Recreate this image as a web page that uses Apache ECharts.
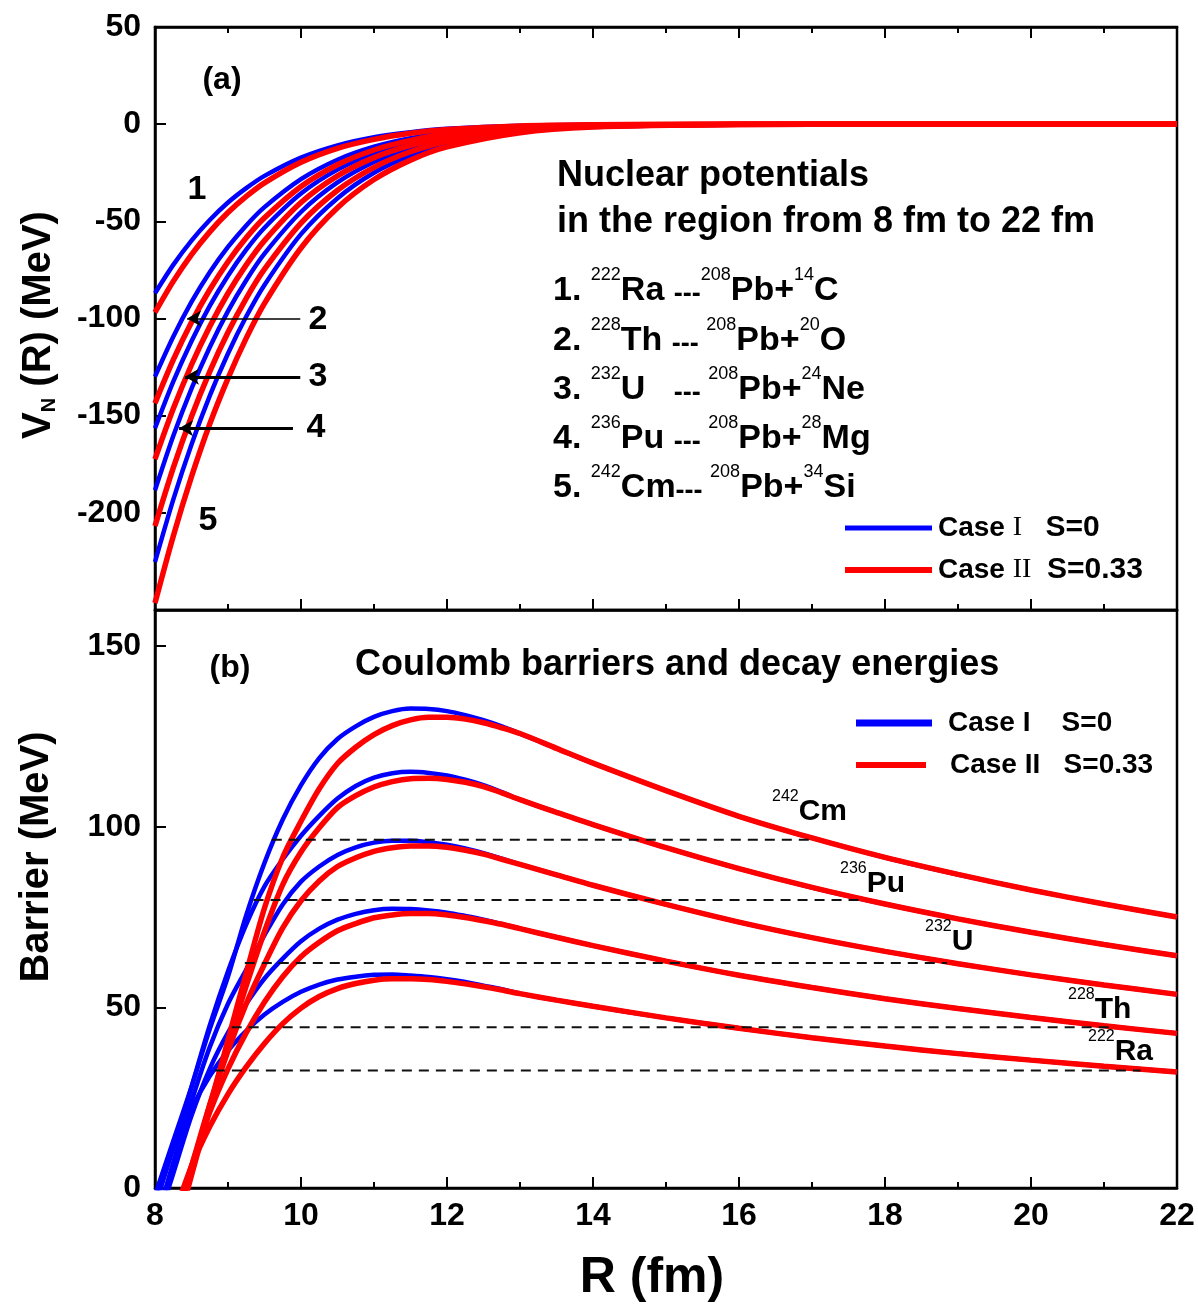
<!DOCTYPE html>
<html>
<head>
<meta charset="utf-8">
<title>Nuclear potentials and Coulomb barriers</title>
<script src="https://cdn.jsdelivr.net/npm/echarts@6.0.0/dist/echarts.min.js"></script>
<style>
  html, body { margin: 0; padding: 0; background: #fff; }
  #chart { width: 1198px; height: 1306px; }
</style>
</head>
<body>
<div id="chart"></div>
<script>
// ---- panel (a): nuclear potentials V_N(R), MeV ----
const rA = [8, 8.25, 8.5, 8.75, 9, 9.25, 9.5, 10, 10.5, 11, 11.5, 12, 13, 14, 16, 18, 22];
const vnBlue1 = [-87.0, -72.4, -59.9, -49.3, -40.3, -32.9, -26.6, -17.2, -10.9, -6.7, -4.1, -2.4, -0.8, -0.3, 0, 0, 0];
const vnRed1 = [-96.9, -80.9, -67.1, -55.4, -45.5, -37.2, -30.2, -19.6, -12.4, -7.8, -4.7, -2.8, -0.95, -0.35, 0, 0, 0];
const vnBlue2 = [-129.9, -109.4, -91.5, -76.2, -63.2, -52.1, -42.7, -28.3, -18.3, -11.6, -7.2, -4.4, -1.5, -0.5, -0.1, 0, 0];
const vnRed2 = [-143.6, -121.3, -101.9, -85.2, -70.8, -58.5, -48.2, -32.1, -20.9, -13.3, -8.35, -5.1, -1.85, -0.6, -0.1, 0, 0];
const vnBlue3 = [-156.5, -132.5, -111.7, -93.5, -78.0, -64.6, -53.3, -35.7, -23.4, -15.0, -9.5, -5.8, -2.1, -0.7, -0.1, 0, 0];
const vnRed3 = [-172.4, -146.5, -123.8, -104.1, -87.0, -72.4, -59.9, -40.3, -26.6, -17.2, -10.9, -6.7, -2.4, -0.8, -0.1, 0, 0];
const vnBlue4 = [-188.4, -160.5, -136.1, -114.8, -96.2, -80.3, -66.6, -45.2, -30.0, -19.5, -12.3, -7.7, -2.8, -0.95, -0.15, 0, 0];
const vnRed4 = [-206.8, -176.9, -150.4, -127.3, -107.1, -89.6, -74.6, -50.9, -34.0, -22.2, -14.2, -8.9, -3.35, -1.15, -0.15, 0, 0];
const vnBlue5 = [-225.3, -193.2, -164.8, -139.8, -118.0, -99.0, -82.7, -56.6, -38.1, -25.0, -16.2, -10.1, -3.8, -1.3, -0.2, 0, 0];
const vnRed5 = [-246.4, -212.0, -181.4, -154.3, -130.8, -110.1, -92.2, -63.7, -43.0, -28.5, -18.5, -11.7, -4.4, -1.5, -0.2, 0, 0];

// ---- panel (b): barriers, MeV ----
const rB = [8, 8.25, 8.5, 8.75, 9, 9.25, 9.5, 9.75, 10, 10.25, 10.5, 10.75, 11, 11.25, 11.5, 11.75, 12, 12.25, 12.5, 12.75, 13, 13.5, 14, 15, 16, 17, 18, 19, 20, 21, 22];
const cmBlue = [-2, 13, 28, 44, 58.5, 75.5, 90, 102, 111.5, 119, 124.3, 127.8, 130.4, 132.0, 132.7, 132.6, 132.0, 130.9, 129.5, 127.8, 125.8, 121.7, 117.6, 110.0, 102.9, 96.9, 91.5, 86.8, 82.5, 78.6, 75.0];
const cmRed = [-35, -15, 3.5, 22, 41, 59.5, 77.5, 91.5, 101.5, 110.5, 117.5, 122.0, 125.5, 128.0, 129.6, 130.3, 130.3, 129.8, 128.8, 127.4, 125.8, 121.7, 117.6, 110.0, 102.9, 96.9, 91.5, 86.8, 82.5, 78.6, 75.0];
const puBlue = [-5, 11, 28, 45, 60, 73, 83.5, 91, 97.5, 103, 107.8, 111.3, 113.6, 114.8, 115.2, 114.9, 114.2, 113.0, 111.5, 109.6, 107.5, 104.0, 100.6, 94.2, 88.4, 83.2, 78.6, 74.5, 70.8, 67.4, 64.3];
const puRed = [-30, -12, 5, 23, 40, 56, 71, 84, 93, 99.7, 105.3, 108.6, 111.0, 112.5, 113.3, 113.4, 113.1, 112.3, 111.1, 109.4, 107.5, 104.0, 100.6, 94.2, 88.4, 83.2, 78.6, 74.5, 70.8, 67.4, 64.3];
const uBlue = [-10, 7, 24, 39, 51, 60.5, 70, 78.5, 84.8, 89.0, 92.2, 94.3, 95.6, 96.1, 96.1, 95.7, 95.0, 94.0, 92.7, 91.2, 89.6, 86.7, 83.8, 78.5, 73.6, 69.3, 65.5, 62.1, 59.0, 56.2, 53.6];
const uRed = [-28, -11, 6, 23, 38, 51, 62, 72, 79.5, 85, 89.0, 91.4, 93.2, 94.2, 94.7, 94.7, 94.3, 93.5, 92.4, 91.0, 89.6, 86.7, 83.8, 78.5, 73.6, 69.3, 65.5, 62.1, 59.0, 56.2, 53.6];
const thBlue = [-12, 4, 20, 33, 43, 51, 58, 63.5, 68.3, 71.8, 74.3, 75.9, 76.9, 77.3, 77.2, 76.8, 76.2, 75.3, 74.3, 73.1, 71.8, 69.4, 67.1, 62.8, 58.9, 55.5, 52.4, 49.7, 47.2, 44.9, 42.8];
const thRed = [-25, -10, 6, 21, 33, 43, 51.5, 58.5, 64, 68, 71.2, 73.2, 74.8, 75.6, 76.0, 76.0, 75.6, 74.9, 74.0, 73.0, 71.8, 69.4, 67.1, 62.8, 58.9, 55.5, 52.4, 49.7, 47.2, 44.9, 42.8];
const raBlue = [-3, 11, 22, 31, 38, 43.5, 48, 51.5, 54.3, 56.3, 57.7, 58.5, 59.0, 59.1, 58.8, 58.4, 57.8, 57.0, 56.0, 55.0, 53.8, 52.0, 50.3, 47.1, 44.2, 41.6, 39.3, 37.2, 35.4, 33.7, 32.1];
const raRed = [-22, -8, 6, 17, 26, 33.5, 40, 45.5, 49.8, 53, 55.2, 56.6, 57.5, 57.9, 57.9, 57.7, 57.2, 56.5, 55.7, 54.8, 53.8, 52.0, 50.3, 47.1, 44.2, 41.6, 39.3, 37.2, 35.4, 33.7, 32.1];

// decay energies (dashed lines) between inner and outer turning points
const qValues = [96.4, 79.7, 62.3, 44.5, 32.5];
const qStart = [9.6, 9.35, 9.23, 9.05, 8.82];
const qEnd = [17.0, 17.7, 18.85, 21.1, 21.5];

// arrows for curves 2-4 in panel (a): [tail R, head R, V]
const arrowTail = [9.99, 9.99, 9.89];
const arrowHead = [8.44, 8.41, 8.33];
const arrowV = [-100, -130, -156.5];
const arrowWidth = [1.5, 3, 3];

const font = '"Liberation Sans", Arial, sans-serif';
const narrow = '"Liberation Sans Narrow", "Liberation Sans", Arial, sans-serif';
const BLUE = '#0000ff';
const RED = '#ff0000';

const chart = echarts.init(document.getElementById('chart'));

function pts(r, v) {
  return r.map((x, i) => [x, v[i]]);
}

function curve(name, r, v, color, width, xi, yi) {
  return {
    name: name,
    type: 'line',
    xAxisIndex: xi,
    yAxisIndex: yi,
    data: pts(r, v),
    symbol: 'none',
    smooth: 0.3,
    silent: true,
    lineStyle: { color: color, width: width },
    itemStyle: { color: color }
  };
}

const blueA = [vnBlue1, vnBlue2, vnBlue3, vnBlue4, vnBlue5];
const redA = [vnRed1, vnRed2, vnRed3, vnRed4, vnRed5];
const blueB = [cmBlue, puBlue, uBlue, thBlue, raBlue];
const redB = [cmRed, puRed, uRed, thRed, raRed];

const series = [];
blueA.forEach((v) => series.push(curve('Case I', rA, v, BLUE, 4.5, 0, 0)));
redA.forEach((v) => series.push(curve('Case II', rA, v, RED, 5.5, 0, 0)));
blueB.forEach((v) => series.push(curve('Case I', rB, v, BLUE, 4.5, 2, 1)));
redB.forEach((v) => series.push(curve('Case II', rB, v, RED, 5.5, 2, 1)));

// arrows
series[0].markLine = {
  silent: true,
  symbol: ['none', 'arrow'],
  symbolSize: [12, 14],
  label: { show: false },
  data: arrowV.map((v, i) => [
    { coord: [arrowTail[i], v], lineStyle: { color: '#000', width: arrowWidth[i], type: 'solid' } },
    { coord: [arrowHead[i], v] }
  ])
};

qValues.forEach((q, i) => {
  series.push({
    type: 'line',
    xAxisIndex: 2,
    yAxisIndex: 1,
    data: [[qStart[i], q], [qEnd[i], q]],
    symbol: 'none',
    silent: true,
    z: 5,
    lineStyle: { color: '#111', width: 2, type: [10, 7] }
  });
});

const tickStyle = { color: '#000', width: 2 };
const lineStyle = { color: '#000', width: 2.5 };
const labelStyle = { color: '#000', fontSize: 32, fontWeight: 'bold', fontFamily: font };

function xAx(grid, pos, labels) {
  return {
    type: 'value', gridIndex: grid, position: pos, min: 8, max: 22, interval: 2,
    axisLine: { show: true, onZero: false, lineStyle: lineStyle },
    axisTick: { show: true, inside: true, length: 11, lineStyle: tickStyle },
    minorTick: { show: true, splitNumber: 2, length: 6, lineStyle: tickStyle },
    splitLine: { show: false },
    axisLabel: Object.assign({ show: labels, margin: 12 }, labelStyle)
  };
}

function yAx(grid, min, max, hide) {
  return {
    type: 'value', gridIndex: grid, min: min, max: max, interval: 50,
    axisLine: { show: true, onZero: false, lineStyle: lineStyle },
    axisTick: { show: true, inside: true, length: 11, lineStyle: tickStyle },
    splitLine: { show: false },
    axisLabel: Object.assign({ margin: 14, formatter: (v) => (v === hide ? '' : String(v)) }, labelStyle)
  };
}

function txt(x, y, text, size, extra) {
  return {
    type: 'text', x: x, y: y, silent: true, z: 50,
    style: Object.assign({
      text: text, fontSize: size, fontWeight: 'bold', fontFamily: font,
      fill: '#000', align: 'left', verticalAlign: 'middle'
    }, extra || {})
  };
}

// rich text with superscripts
function supRich(main, sup) {
  return {
    n: { fontSize: main, fontWeight: 'bold', fontFamily: font, lineHeight: main + 8, verticalAlign: 'bottom', fill: '#000' },
    s: { fontSize: sup, fontFamily: narrow, lineHeight: sup + 2, verticalAlign: 'top', fill: '#000' },
    d: { fontSize: Math.round(main * 0.8), fontWeight: 'bold', fontFamily: font, lineHeight: main + 8, verticalAlign: 'bottom', fill: '#000' }
  };
}
const listRich = supRich(34, 18);
const isoRich = supRich(30, 16);

const listLines = [
  '{n|1. }{s|222}{n|Ra }{d|---}{s|208}{n|Pb+}{s|14}{n|C}',
  '{n|2. }{s|228}{n|Th }{d|--- }{s|208}{n|Pb+}{s|20}{n|O}',
  '{n|3. }{s|232}{n|U   }{d|--- }{s|208}{n|Pb+}{s|24}{n|Ne}',
  '{n|4. }{s|236}{n|Pu }{d|--- }{s|208}{n|Pb+}{s|28}{n|Mg}',
  '{n|5. }{s|242}{n|Cm}{d|--- }{s|208}{n|Pb+}{s|34}{n|Si}'
];
const listY = [287, 337, 386, 435, 484];

const isoLabels = ['{s|242}{n|Cm}', '{s|236}{n|Pu}', '{s|232}{n|U}', '{s|228}{n|Th}', '{s|222}{n|Ra}'];
const isoX = [772, 840, 925, 1068, 1088];
const isoY = [808, 880, 938, 1006, 1048];

const legendRich = {
  c: { fontSize: 28, fontWeight: 'bold', fontFamily: font },
  r: { fontSize: 28, fontFamily: '"Liberation Serif", serif' },
  v: { fontSize: 30, fontWeight: 'bold', fontFamily: font }
};

const graphics = [
  // axis titles
  txt(36, 325, '{v|V}{n|N}{t| (R) (MeV)}', 40, {
    align: 'center',
    rich: {
      v: { fontSize: 40, fontWeight: 'bold', fontFamily: font, lineHeight: 46, verticalAlign: 'bottom' },
      n: { fontSize: 20, fontWeight: 'bold', fontFamily: font, lineHeight: 22, verticalAlign: 'bottom' },
      t: { fontSize: 40, fontWeight: 'bold', fontFamily: font, lineHeight: 46, verticalAlign: 'bottom' }
    }
  }),
  txt(37, 857, 'Barrier (MeV)', 40, { align: 'center' }),
  txt(652, 1278, 'R (fm)', 50, { align: 'center' }),
  // panel labels
  txt(222, 80, '(a)', 32, { align: 'center' }),
  txt(230, 668, '(b)', 32, { align: 'center' }),
  txt(197, 190, '1', 34, { align: 'center' }),
  txt(318, 320, '2', 34, { align: 'center' }),
  txt(318, 377, '3', 34, { align: 'center' }),
  txt(316, 428, '4', 34, { align: 'center' }),
  txt(208, 521, '5', 34, { align: 'center' }),
  txt(557, 176, 'Nuclear potentials', 36),
  txt(557, 222, 'in the region from 8 fm to 22 fm', 36),
  txt(355, 665, 'Coulomb barriers and decay energies', 36),
  // legend panel (a)
  { type: 'line', silent: true, z: 50, shape: { x1: 845, y1: 528, x2: 932, y2: 528 }, style: { stroke: BLUE, lineWidth: 5 } },
  { type: 'line', silent: true, z: 50, shape: { x1: 845, y1: 570, x2: 932, y2: 570 }, style: { stroke: RED, lineWidth: 6 } },
  txt(938, 528, '{c|Case }{r|I}{c|   }{v|S=0}', 28, { rich: legendRich }),
  txt(938, 570, '{c|Case }{r|II}{c|  }{v|S=0.33}', 28, { rich: legendRich }),
  // legend panel (b)
  { type: 'line', silent: true, z: 50, shape: { x1: 856, y1: 723, x2: 932, y2: 723 }, style: { stroke: BLUE, lineWidth: 7 } },
  { type: 'line', silent: true, z: 50, shape: { x1: 856, y1: 765, x2: 926, y2: 765 }, style: { stroke: RED, lineWidth: 6 } },
  txt(948, 723, 'Case I    S=0', 28),
  txt(950, 765, 'Case II   S=0.33', 28)
];
// rotate the y axis titles
graphics[0].rotation = Math.PI / 2;
graphics[1].rotation = Math.PI / 2;

listLines.forEach((t, i) => graphics.push(txt(553, listY[i], t, 34, { rich: listRich })));
isoLabels.forEach((t, i) => graphics.push(txt(isoX[i], isoY[i], t, 30, { rich: isoRich })));

const option = {
  animation: false,
  backgroundColor: '#fff',
  grid: [
    { left: 155, top: 27, width: 1022, height: 583, show: true, borderColor: '#000', borderWidth: 2.5, backgroundColor: 'transparent' },
    { left: 155, top: 610, width: 1022, height: 578, show: true, borderColor: '#000', borderWidth: 2.5, backgroundColor: 'transparent' }
  ],
  xAxis: [xAx(0, 'bottom', false), xAx(0, 'top', false), xAx(1, 'bottom', true)],
  yAxis: [yAx(0, -250, 50, -250), yAx(1, 0, 160, 160)],
  series: series,
  graphic: graphics
};

chart.setOption(option);
</script>
</body>
</html>
